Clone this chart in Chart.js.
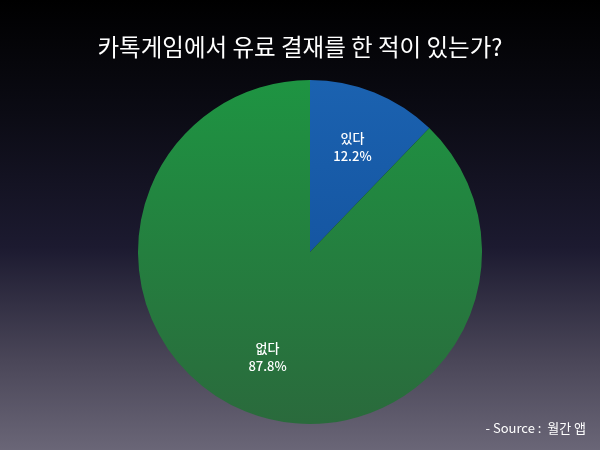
<!DOCTYPE html>
<html><head><meta charset="utf-8">
<script src="https://cdn.jsdelivr.net/npm/chart.js@4"></script>
<style>
html,body{margin:0;padding:0;width:600px;height:450px;overflow:hidden;
background:linear-gradient(to bottom,#000 0%,#0b0b14 25%,#1c1a30 55%,#4a4658 80%,#6a6677 100%);}
canvas{display:block}
</style></head><body>
<canvas id="c" width="600" height="450"></canvas>
<script>
const titleText = '카톡게임에서 유료 결재를 한 적이 있는가?';
const categories = ['있다', '없다'];
const values = [12.2, 87.8];
const sourceText = '- Source :  월간 앱';
const FONT = '"Noto Sans CJK KR", "Noto Sans", sans-serif';

const deco = {
  id: 'deco',
  afterDatasetsDraw(chart) {
    const ctx = chart.ctx;
    ctx.save();
    ctx.fillStyle = '#fff';
    ctx.textAlign = 'center';
    ctx.textBaseline = 'middle';
    ctx.font = '23.5px ' + FONT;
    ctx.fillText(titleText, 300, 47);
    ctx.font = '500 13px ' + FONT;
    chart.getDatasetMeta(0).data.forEach((arc, i) => {
      const mid = (arc.startAngle + arc.endAngle) / 2;
      const r = arc.outerRadius * 0.66;
      const x = arc.x + Math.cos(mid) * r, y = arc.y + Math.sin(mid) * r;
      ctx.fillText(categories[i], x, y - 9);
      ctx.fillText(values[i].toFixed(1) + '%', x, y + 9);
    });
    ctx.textAlign = 'right';
    ctx.font = '13px ' + FONT;
    ctx.fillText(sourceText, 586, 428);
    ctx.restore();
  }
};

new Chart(document.getElementById('c'), {
  type: 'pie',
  data: { labels: categories, datasets: [{ data: values,
    backgroundColor: (c) => {
      const a = c.chart.chartArea; if (!a) return '#1a7f3f';
      const g = c.chart.ctx.createLinearGradient(0, a.top, 0, a.bottom);
      if (c.dataIndex === 0) { g.addColorStop(0, '#1b62b0'); g.addColorStop(1, '#0f4a94'); }
      else { g.addColorStop(0, '#1e9442'); g.addColorStop(1, '#2a6a3c'); }
      return g;
    },
    borderWidth: 0 }] },
  options: {
    responsive: false, animation: false,
    layout: { padding: { top: 80, bottom: 26, left: 138, right: 118 } },
    plugins: { legend: { display: false }, tooltip: { enabled: false } }
  },
  plugins: [deco]
});
</script></body></html>
